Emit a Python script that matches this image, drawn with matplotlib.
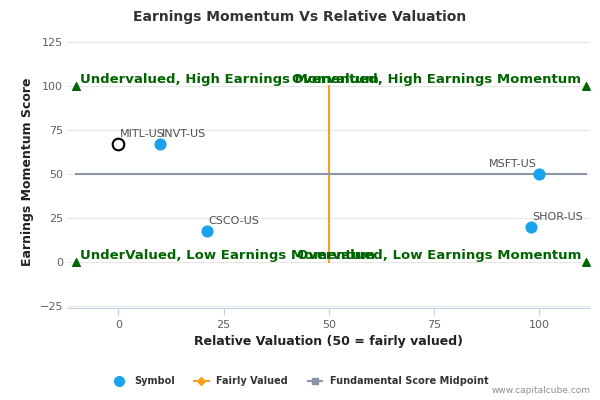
import matplotlib
matplotlib.use("Agg")
import matplotlib.pyplot as plt
from matplotlib.lines import Line2D

symbols = ["MITL-US", "INVT-US", "CSCO-US", "MSFT-US", "SHOR-US"]
valuation = [0, 10, 21, 100, 98]
momentum = [67, 67, 18, 50, 20]
corner_x = [-10, 111, -10, 111]
corner_y = [100, 100, 0, 0]
quadrants = ["Undervalued, High Earnings Momentum", "Overvalued, High Earnings Momentum",
             "UnderValued, Low Earnings Momentum", "Overvalued, Low Earnings Momentum"]

fig = plt.figure(figsize=(6, 4), dpi=100)
ax = fig.add_axes([0.113, 0.23, 0.87, 0.6825])
ax.set_xlim(-12, 112)
ax.set_ylim(-26, 129)
ax.set_yticks([-25, 0, 25, 50, 75, 100, 125])
ax.set_xticks([0, 25, 50, 75, 100])
ax.grid(axis="y", color="#e6e6e6", lw=0.8)
ax.set_axisbelow(True)
for s in ["top", "right", "left"]:
    ax.spines[s].set_visible(False)
ax.spines["bottom"].set_color("#c0d0e0")
ax.tick_params(axis="both", length=0, labelsize=8, colors="#606060")
ax.tick_params(axis="x", length=5, color="#c0d0e0")

ax.plot([50, 50], [0, 100], color="#f7a21b", lw=1.5, zorder=2)
ax.plot([-10, 111], [50, 50], color="#8d93a8", lw=1.5, zorder=2)
ax.scatter(corner_x, corner_y, marker="^", color="#006400", s=30, zorder=3)

for i, (x, y, s) in enumerate(zip(valuation, momentum, symbols)):
    if i == 0:
        ax.scatter(x, y, s=70, facecolor="white", edgecolor="black", lw=1.5, zorder=4)
    else:
        ax.scatter(x, y, s=60, color="#1aa3ec", zorder=4)
    ax.annotate(s, (x, y), xytext=(-2 if i == 3 else 1, 5), textcoords="offset points",
                ha="right" if i == 3 else "left", fontsize=8, color="#505050")

ax.text(-9, 102, quadrants[0], color="#006400", fontsize=9.5, fontweight="bold", ha="left")
ax.text(110, 102, quadrants[1], color="#006400", fontsize=9.5, fontweight="bold", ha="right")
ax.text(-9, 2, quadrants[2], color="#006400", fontsize=9.5, fontweight="bold", ha="left")
ax.text(110, 2, quadrants[3], color="#006400", fontsize=9.5, fontweight="bold", ha="right")

ax.set_xlabel("Relative Valuation (50 = fairly valued)", fontsize=9, fontweight="bold", color="#222222")
ax.set_ylabel("Earnings Momentum Score", fontsize=9, fontweight="bold", color="#222222")
fig.suptitle("Earnings Momentum Vs Relative Valuation", fontsize=10, fontweight="bold",
             color="#333333", y=0.975)

handles = [Line2D([], [], marker="o", ls="", color="#1aa3ec", markersize=7),
           Line2D([], [], marker="D", color="#f7a21b", markersize=4, lw=1.5),
           Line2D([], [], marker="s", color="#8d93a8", markersize=5, lw=1.5)]
fig.legend(handles, ["Symbol", "Fairly Valued", "Fundamental Score Midpoint"],
           loc="center", bbox_to_anchor=(0.5, 0.047), ncol=3, frameon=False,
           prop={"size": 7, "weight": "bold"}, labelcolor="#333333", handlelength=1.5)
fig.text(0.985, 0.018, "www.capitalcube.com", ha="right", fontsize=6.5, color="#909090")
fig.savefig("out.png")
